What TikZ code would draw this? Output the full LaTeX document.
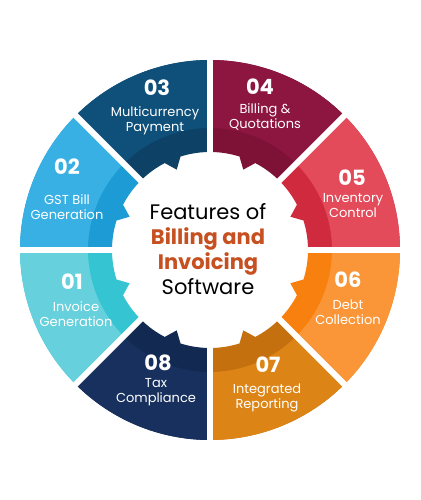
\documentclass[tikz,border=0pt]{standalone}
\usepackage{fontspec}
\setmainfont{Poppins}
\usetikzlibrary{calc}
\definecolor{c1a}{HTML}{66D0DC}\definecolor{c1b}{HTML}{35C4D2}
\definecolor{c2a}{HTML}{39B0E3}\definecolor{c2b}{HTML}{1C9BD4}
\definecolor{c3a}{HTML}{0E5079}\definecolor{c3b}{HTML}{0D4266}
\definecolor{c4a}{HTML}{8D1640}\definecolor{c4b}{HTML}{7D1236}
\definecolor{c5a}{HTML}{E44B5A}\definecolor{c5b}{HTML}{D02A3E}
\definecolor{c6a}{HTML}{FA9638}\definecolor{c6b}{HTML}{F7800F}
\definecolor{c7a}{HTML}{DC8516}\definecolor{c7b}{HTML}{C5700E}
\definecolor{c8a}{HTML}{17305E}\definecolor{c8b}{HTML}{122A52}
\definecolor{titleorange}{HTML}{C6501F}

\begin{document}
\begin{tikzpicture}[x=1pt,y=1pt,
    num/.style={text=white,font=\fontsize{21}{24}\selectfont\bfseries},
    lbl/.style={text=white,align=center,font=\fontsize{13}{15}\selectfont}]
    \useasboundingbox (0,0) rectangle (420,500);
    \begin{scope}[shift={(210,250)}]
    % eight ring sectors, dark inner band with a tooth, light outer part
    \foreach \a/\ca/\cb in {180/c1a/c1b,135/c2a/c2b,90/c3a/c3b,45/c4a/c4b,0/c5a/c5b,-45/c6a/c6b,-90/c7a/c7b,-135/c8a/c8b}{
        \fill[\cb] (\a:98) -- (\a:190) arc[start angle=\a,end angle=\a+45,radius=190]
            -- (\a+45:98) arc[start angle=\a+45,end angle=\a+27.5,radius=98]
            -- (\a+22.5:87) -- (\a+17.5:98) arc[start angle=\a+17.5,end angle=\a,radius=98] -- cycle;
        \fill[\ca] (\a:122) -- (\a:190) arc[start angle=\a,end angle=\a+45,radius=190]
            -- (\a+45:122) arc[start angle=\a+45,end angle=\a,radius=122] -- cycle;
    }
    % white gaps
    \foreach \a in {0,45,...,315}{\draw[white,line width=6] (\a:80) -- (\a:196);}
    \end{scope}
    \node[num] (n01) at (72,218) {01};
    \node[lbl] (t01) at (76,185.5) {Invoice\\Generation};
    \node[num] (n02) at (67,333) {02};
    \node[lbl] (t02) at (67,292.5) {GST Bill\\Generation};
    \node[num] (n03) at (157,412) {03};
    \node[lbl] (t03) at (155,379.5) {Multicurrency\\Payment};
    \node[num] (n04) at (260,413) {04};
    \node[lbl] (t04) at (265,383.5) {Billing \&\\Quotations};
    \node[num] (n05) at (352,322) {05};
    \node[lbl] (t05) at (353,294.5) {Inventory\\Control};
    \node[num] (n06) at (348,220) {06};
    \node[lbl] (t06) at (348,187.5) {Debt\\Collection};
    \node[num] (n07) at (268,135) {07};
    \node[lbl] (t07) at (267,102.5) {Integrated\\Reporting};
    \node[num] (n08) at (158,137) {08};
    \node[lbl] (t08) at (156,107.5) {Tax\\Compliance};
    \node[align=center,font=\fontsize{21}{25}\selectfont] (title) at (208,250.5)
        {Features of\\{\color{titleorange}\bfseries Billing and}\\{\color{titleorange}\bfseries Invoicing}\\Software};
\end{tikzpicture}
\end{document}
